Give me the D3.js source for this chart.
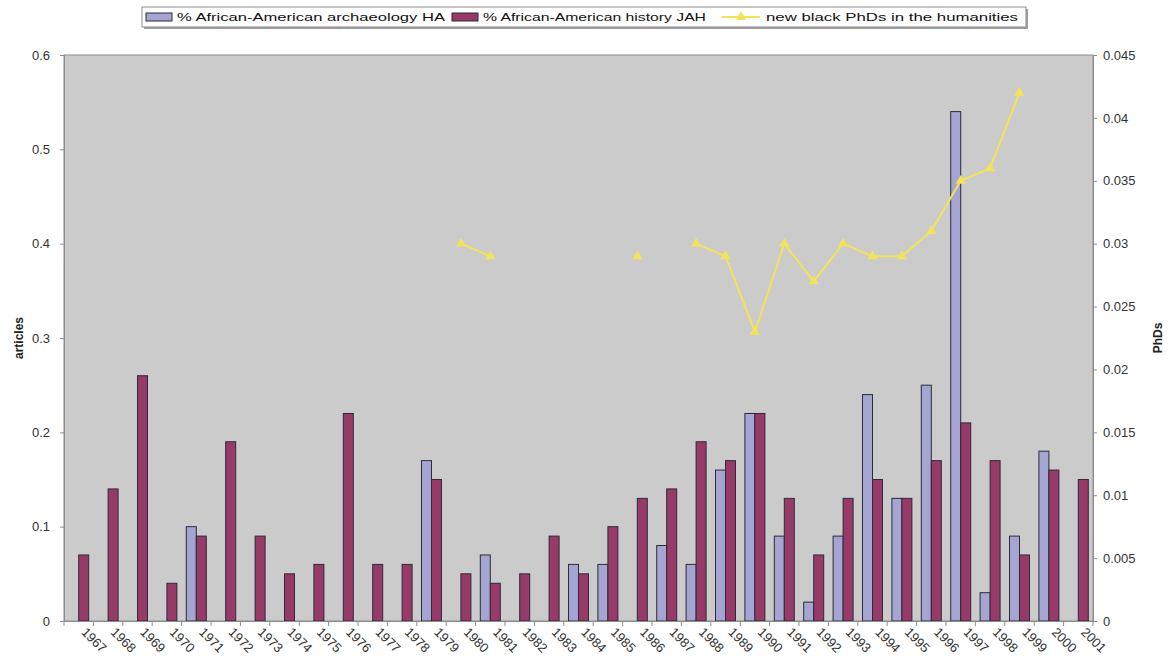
<!DOCTYPE html>
<html>
<head>
<meta charset="utf-8">
<script src="https://cdn.jsdelivr.net/npm/d3@7"></script>
<style>
  html, body { margin: 0; padding: 0; background: #ffffff; }
  svg { display: block; font-family: "Liberation Sans", Arial, sans-serif; }
</style>
</head>
<body>
<svg id="chart" width="1170" height="671"></svg>
<script>
const years = ["1967","1968","1969","1970","1971","1972","1973","1974","1975","1976","1977","1978","1979","1980","1981","1982","1983","1984","1985","1986","1987","1988","1989","1990","1991","1992","1993","1994","1995","1996","1997","1998","1999","2000","2001"];
const haValues = [null,null,null,null,0.10,null,null,null,null,null,null,null,0.17,null,0.07,null,null,0.06,0.06,null,0.08,0.06,0.16,0.22,0.09,0.02,0.09,0.24,0.13,0.25,0.54,0.03,0.09,0.18,null];
const jahValues = [0.07,0.14,0.26,0.04,0.09,0.19,0.09,0.05,0.06,0.22,0.06,0.06,0.15,0.05,0.04,0.05,0.09,0.05,0.10,0.13,0.14,0.19,0.17,0.22,0.13,0.07,0.13,0.15,0.13,0.17,0.21,0.17,0.07,0.16,0.15];
const phdValues = [null,null,null,null,null,null,null,null,null,null,null,null,null,0.030,0.029,null,null,null,null,0.029,null,0.030,0.029,0.023,0.030,0.027,0.030,0.029,0.029,0.031,0.035,0.036,0.042,null,null];
const leftTicks = [0,0.1,0.2,0.3,0.4,0.5,0.6];
const rightTicks = [0,0.005,0.01,0.015,0.02,0.025,0.03,0.035,0.04,0.045];
const seriesNames = ["% African-American archaeology HA","% African-American history JAH","new black PhDs in the humanities"];
const seriesKeys = ["HA","JAH"];

const plot = {left: 64, right: 1093, top: 55, bottom: 621};
const colors = {HA: "#a5a5d2", JAH: "#973a68", line: "#f3e35a", bg: "#cbcbcb"};
const tickFont = 13;

const svg = d3.select("#chart");

const x = d3.scaleBand().domain(years).range([plot.left, plot.right]).padding(0);
const xInner = d3.scaleBand().domain(seriesKeys).range([0, x.bandwidth()]).paddingInner(0).paddingOuter(0.47);
const yL = d3.scaleLinear().domain([0, 0.6]).range([plot.bottom, plot.top]);
const yR = d3.scaleLinear().domain([0, 0.045]).range([plot.bottom, plot.top]);

// plot background
svg.append("rect")
  .attr("x", plot.left).attr("y", plot.top)
  .attr("width", plot.right - plot.left).attr("height", plot.bottom - plot.top)
  .attr("fill", colors.bg).attr("stroke", "#8c8c8c").attr("stroke-width", 1);

// bars
const rows = years.map((yr, i) => ({year: yr, HA: haValues[i], JAH: jahValues[i]}));
const groups = svg.append("g").selectAll("g").data(rows).join("g")
  .attr("transform", d => `translate(${x(d.year)},0)`);
groups.selectAll("rect")
  .data(d => seriesKeys.map(k => ({key: k, value: d[k]})).filter(e => e.value != null))
  .join("rect")
  .attr("x", e => xInner(e.key))
  .attr("width", xInner.bandwidth())
  .attr("y", e => yL(e.value))
  .attr("height", e => yL(0) - yL(e.value))
  .attr("fill", e => colors[e.key])
  .attr("stroke", "#2b2b3a").attr("stroke-width", 1);

// line series
const lineData = years.map((yr, i) => ({year: yr, v: phdValues[i]}));
const line = d3.line()
  .defined(d => d.v != null)
  .x(d => x(d.year) + x.bandwidth() / 2)
  .y(d => yR(d.v));
svg.append("path").datum(lineData)
  .attr("d", line).attr("fill", "none")
  .attr("stroke", colors.line).attr("stroke-width", 2);
const tri = d3.symbol().type(d3.symbolTriangle).size(45);
svg.append("g").selectAll("path").data(lineData.filter(d => d.v != null)).join("path")
  .attr("d", tri)
  .attr("transform", d => `translate(${x(d.year) + x.bandwidth() / 2},${yR(d.v)})`)
  .attr("fill", colors.line);

// axes
const axisL = d3.axisLeft(yL).tickValues(leftTicks).tickSize(4).tickPadding(10).tickFormat(d3.format("~g"));
const gL = svg.append("g").attr("transform", `translate(${plot.left},0)`).call(axisL);
const axisR = d3.axisRight(yR).tickValues(rightTicks).tickSize(4).tickPadding(6).tickFormat(d => d === 0 ? "0" : d3.format("~g")(d));
const gR = svg.append("g").attr("transform", `translate(${plot.right},0)`).call(axisR);
const axisB = d3.axisBottom(x).tickSize(0).tickPadding(0);
const gB = svg.append("g").attr("transform", `translate(0,${plot.bottom})`).call(axisB);

[gL, gR, gB].forEach(g => {
  g.select(".domain").attr("stroke", "#8c8c8c");
  g.selectAll(".tick line").attr("stroke", "#8c8c8c");
  g.selectAll("text").attr("fill", "#333").attr("font-size", tickFont).attr("font-family", "Liberation Sans, Arial, sans-serif");
});

// category boundary ticks
svg.append("g").selectAll("line").data(years.concat(["end"])).join("line")
  .attr("x1", (d, i) => plot.left + i * x.bandwidth())
  .attr("x2", (d, i) => plot.left + i * x.bandwidth())
  .attr("y1", plot.bottom).attr("y2", plot.bottom + 5)
  .attr("stroke", "#8c8c8c");

gB.selectAll(".tick text")
  .attr("text-anchor", "start")
  .attr("dy", 0)
  .attr("transform", "translate(2,12) rotate(45)");

// axis titles
svg.append("text")
  .attr("transform", `translate(23,${(plot.top + plot.bottom) / 2}) rotate(-90)`)
  .attr("text-anchor", "middle").attr("font-size", 12).attr("font-weight", "bold").attr("fill", "#222")
  .text("articles");
svg.append("text")
  .attr("transform", `translate(1162,${(plot.top + plot.bottom) / 2}) rotate(-90)`)
  .attr("text-anchor", "middle").attr("font-size", 12).attr("font-weight", "bold").attr("fill", "#222")
  .text("PhDs");

// legend
const lg = svg.append("g");
lg.append("rect").attr("x", 144).attr("y", 9).attr("width", 884).attr("height", 20).attr("fill", "#a0a0a0");
lg.append("rect").attr("x", 142).attr("y", 7).attr("width", 884).attr("height", 20).attr("fill", "#fff").attr("stroke", "#8c8c8c");
const legendItems = [
  {name: seriesNames[0], type: "bar", color: colors.HA, sx: 146, tx: 177, tw: 268},
  {name: seriesNames[1], type: "bar", color: colors.JAH, sx: 452, tx: 483, tw: 223},
  {name: seriesNames[2], type: "line", color: colors.line, sx: 722, tx: 766, tw: 252}
];
legendItems.forEach(it => {
  if (it.type === "bar") {
    lg.append("rect").attr("x", it.sx).attr("y", 13).attr("width", 26).attr("height", 8)
      .attr("fill", it.color).attr("stroke", "#2b2b3a");
  } else {
    lg.append("line").attr("x1", it.sx).attr("x2", it.sx + 38).attr("y1", 17).attr("y2", 17)
      .attr("stroke", it.color).attr("stroke-width", 2);
    lg.append("path").attr("d", tri).attr("transform", `translate(${it.sx + 19},17)`).attr("fill", it.color);
  }
  lg.append("text").attr("x", it.tx).attr("y", 21).attr("font-size", 11).attr("fill", "#111")
    .attr("textLength", it.tw).attr("lengthAdjust", "spacingAndGlyphs")
    .text(it.name);
});
</script>
</body>
</html>
